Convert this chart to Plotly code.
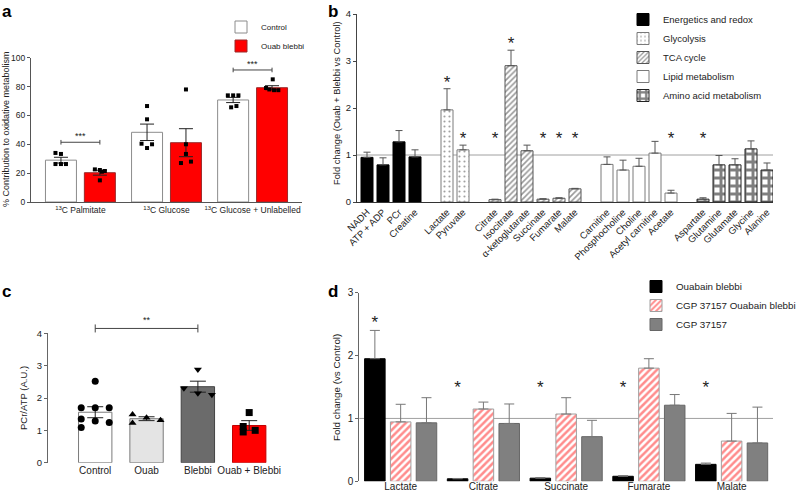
import numpy as np
import plotly.graph_objects as go

W, H = 798, 494
FONT = "Arial, Liberation Sans, sans-serif"

# ---------------- data ----------------
# Panel a
a_groups = ["<sup>13</sup>C Palmitate", "<sup>13</sup>C Glucose", "<sup>13</sup>C Glucose + Unlabelled"]
a_series = ["Control", "Ouab blebbi"]
a_control_mean = [29.0, 48.3, 70.7]
a_control_sem = [2.0, 5.7, 1.8]
a_ouab_mean = [20.3, 41.1, 79.2]
a_ouab_sem = [1.7, 9.7, 1.4]
a_control_points = [[34.0, 33.3, 26.3, 26.3, 26.3], [66.5, 57.3, 40.4, 37.4, 40.0], [73.9, 73.9, 73.9, 65.6, 66.5]]
a_ouab_points = [[22.6, 22.2, 21.5, 21.0, 15.0], [78.0, 40.0, 33.3, 27.0, 28.0], [85.0, 79.0, 78.0, 77.5, 77.5]]
a_sig_groups = [0, 2]
a_sig_labels = ["***", "***"]
a_sig_heights = [41.4, 91.5]
a_yticks = [0, 20, 40, 60, 80, 100]

# Panel b
b_groups = ["Energetics and redox", "Glycolysis", "TCA cycle", "Lipid metabolism", "Amino acid metabolism"]
b_metabolites = [
    ["NADH", "ATP + ADP", "PCr", "Creatine"],
    ["Lactate", "Pyruvate"],
    ["Citrate", "Isocitrate", "α-ketoglutarate", "Succinate", "Fumarate", "Malate"],
    ["Carnitine", "Phosphocholine", "Choline", "Acetyl carnitine", "Acetate"],
    ["Aspartate", "Glutamine", "Glutamate", "Glycine", "Alanine"],
]
b_fold = [
    [0.95, 0.79, 1.28, 0.96],
    [1.96, 1.11],
    [0.05, 2.90, 1.09, 0.06, 0.08, 0.28],
    [0.80, 0.68, 0.76, 1.04, 0.19],
    [0.06, 0.79, 0.79, 1.13, 0.68],
]
b_err = [
    [0.11, 0.15, 0.24, 0.15],
    [0.45, 0.10],
    [0.01, 0.33, 0.12, 0.01, 0.01, 0.01],
    [0.16, 0.21, 0.17, 0.25, 0.06],
    [0.03, 0.20, 0.13, 0.17, 0.15],
]
b_sig = [
    [0, 0, 0, 0],
    [1, 1],
    [1, 1, 0, 1, 1, 1],
    [0, 0, 0, 0, 1],
    [1, 0, 0, 0, 0],
]
b_yticks = [0, 1, 2, 3, 4]

# Panel c
c_groups = ["Control", "Ouab", "Blebbi", "Ouab + Blebbi"]
c_mean = [1.56, 1.36, 2.35, 1.15]
c_sem = [0.17, 0.06, 0.17, 0.15]
c_points = [
    [2.52, 1.70, 1.70, 1.70, 1.35, 1.29, 1.24, 1.09],
    [1.49, 1.23, 1.39, 1.31],
    [2.88, 2.30, 2.15, 2.10],
    [1.55, 1.12, 0.95, 1.00],
]
c_sig_pair = [0, 2]
c_sig_label = "**"
c_sig_height = 4.15
c_yticks = [0, 1, 2, 3, 4]

# Panel d
d_metabolites = ["Lactate", "Citrate", "Succinate", "Fumarate", "Malate"]
d_series = ["Ouabain blebbi", "CGP 37157 Ouabain blebbi", "CGP 37157"]
d_ouab = [1.95, 0.04, 0.05, 0.08, 0.27]
d_ouab_err = [0.45, 0.005, 0.01, 0.01, 0.02]
d_cgp_ouab = [0.945, 1.15, 1.07, 1.80, 0.64]
d_cgp_ouab_err = [0.28, 0.11, 0.26, 0.15, 0.44]
d_cgp = [0.93, 0.92, 0.71, 1.21, 0.61]
d_cgp_err = [0.40, 0.31, 0.26, 0.17, 0.57]
d_sig = [1, 1, 1, 1, 1]
d_yticks = [0, 1, 2, 3]

# ---------------- layout geometry (px) ----------------
def px_x(p):
    return p / W


def px_y(p):
    return 1 - p / H


A = dict(x0=31, x1=302, y0=57.7, y1=202, xr=[-0.574, 2.574], yr=[0, 100])
B = dict(x0=357, x1=773, y0=14, y1=202, xr=[-0.625, 25.375], yr=[0, 4])
C = dict(x0=48, x1=280, y0=333.3, y1=462.7, xr=[-0.92, 3.6], yr=[0, 4])
D = dict(x0=359.3, x1=773, y0=292.7, y1=481.3, xr=[-0.5, 4.5], yr=[0, 3])


def ppu(P):
    return (P["x1"] - P["x0"]) / (P["xr"][1] - P["xr"][0])


# jitter offsets (px) for the individual points
a_ctrl_jit = [[-5.5, 0, -5.5, 0, 5], [0, 0, -5.5, 0, 5], [-5.3, 0, 5.3, -2, 3.3]]
a_ouab_jit = [[-5, 0, 5, 2, 0], [0, 0, 0, -5, 5], [0.7, -6, -2.7, 2, 6.3]]
c_jit = [[0, -14, 0, 14, -14, 0, 14, -14], [-14, -14, 0, 14], [0, -14, 0, 14], [0, -6, -6, 6]]

fig = go.Figure()

# ---------------- panel a ----------------
A_OFF, A_W = 0.226, 0.36
xa = np.arange(len(a_groups))
fig.add_trace(go.Bar(
    x=xa - A_OFF, y=a_control_mean, width=A_W, name=a_series[0],
    marker=dict(color="white", line=dict(color="#8c8c8c", width=1)),
    error_y=dict(type="data", array=a_control_sem, color="#222", thickness=1, width=7),
    xaxis="x", yaxis="y", legend="legend"))
fig.add_trace(go.Bar(
    x=xa + A_OFF, y=a_ouab_mean, width=A_W, name=a_series[1],
    marker=dict(color="#ff0000", line=dict(color="#9a2a2a", width=1)),
    error_y=dict(type="data", array=a_ouab_sem, color="#222", thickness=1, width=7),
    xaxis="x", yaxis="y", legend="legend"))
ua = ppu(A)
for pts, jit, off in [(a_control_points, a_ctrl_jit, -A_OFF), (a_ouab_points, a_ouab_jit, A_OFF)]:
    xs, ys = [], []
    for g, (vals, js) in enumerate(zip(pts, jit)):
        for v, j in zip(vals, js):
            xs.append(g + off + j / ua)
            ys.append(v)
    fig.add_trace(go.Scatter(x=xs, y=ys, mode="markers", showlegend=False,
                             marker=dict(color="black", size=4, symbol="square"),
                             xaxis="x", yaxis="y", cliponaxis=False))

shapes = []
annotations = []
for g, lab, h in zip(a_sig_groups, a_sig_labels, a_sig_heights):
    x0, x1 = g - A_OFF, g + A_OFF
    shapes.append(dict(type="line", xref="x", yref="y", x0=x0, x1=x1, y0=h, y1=h,
                       line=dict(color="#444", width=1)))
    for xe in (x0, x1):
        shapes.append(dict(type="line", xref="x", yref="y", x0=xe, x1=xe, y0=h - 1.6, y1=h + 1.6,
                           line=dict(color="#444", width=1)))
    annotations.append(dict(x=g, y=h, xref="x", yref="y", text=lab, showarrow=False,
                            yshift=6, font=dict(size=9, color="#222")))

# ---------------- panel b ----------------
b_pos = []
s = 0
for grp in b_metabolites:
    b_pos.append(list(range(s, s + len(grp))))
    s += len(grp) + 1

b_styles = [
    dict(color="black", line=dict(color="black", width=1)),
    dict(color="white", line=dict(color="#7a7a7a", width=1),
         pattern=dict(shape=".", fgcolor="#444", bgcolor="white", size=5, solidity=0.15)),
    dict(color="white", line=dict(color="#555", width=1),
         pattern=dict(shape="/", fgcolor="#333", bgcolor="white", size=4, solidity=0.4)),
    dict(color="white", line=dict(color="#7a7a7a", width=1)),
    dict(color="white", line=dict(color="#222", width=1),
         pattern=dict(shape="+", fgcolor="black", bgcolor="white", size=8, solidity=0.6)),
]
star_x, star_y = [], []
for name, pos, vals, errs, sig, st in zip(b_groups, b_pos, b_fold, b_err, b_sig, b_styles):
    fig.add_trace(go.Bar(
        x=pos, y=vals, width=0.75, name=name, marker=st,
        error_y=dict(type="data", array=errs, arrayminus=[0] * len(errs), symmetric=False,
                     color="#555", thickness=1, width=3.5),
        xaxis="x2", yaxis="y2", legend="legend2"))
    for p, v, e, sg in zip(pos, vals, errs, sig):
        if sg:
            star_x.append(p)
            star_y.append(max(v + e + 0.115, 1.335))
fig.add_trace(go.Scatter(x=star_x, y=star_y, mode="text", text=["*"] * len(star_x),
                         textfont=dict(size=17, color="#222", family=FONT), textposition="middle center",
                         showlegend=False, xaxis="x2", yaxis="y2", cliponaxis=False))
shapes.append(dict(type="line", xref="x2 domain", yref="y2", x0=0, x1=1, y0=1, y1=1,
                   line=dict(color="#a0a0a0", width=1), layer="below"))

# ---------------- panel c ----------------
C_W = 0.65
xc = np.arange(len(c_groups))
c_colors = ["white", "#e4e4e4", "#6b6b6b", "#ff0000"]
c_lines = ["#7a7a7a", "#7a7a7a", "#444", "#c00000"]
c_symbols = ["circle", "triangle-up", "triangle-down", "square"]
fig.add_trace(go.Bar(
    x=xc, y=c_mean, width=C_W, showlegend=False,
    marker=dict(color=c_colors, line=dict(color=c_lines, width=1)),
    error_y=dict(type="data", array=c_sem, color="#222", thickness=1, width=8),
    xaxis="x3", yaxis="y3"))
uc = ppu(C)
for g, (vals, js) in enumerate(zip(c_points, c_jit)):
    fig.add_trace(go.Scatter(
        x=[g + j / uc for j in js], y=vals, mode="markers", showlegend=False,
        marker=dict(color="black", size=7, symbol=c_symbols[g]),
        xaxis="x3", yaxis="y3", cliponaxis=False))
cy_dom = [px_y(C["y1"]), px_y(C["y0"])]
cy = cy_dom[0] + (c_sig_height - C["yr"][0]) / (C["yr"][1] - C["yr"][0]) * (cy_dom[1] - cy_dom[0])
shapes.append(dict(type="line", xref="x3", yref="paper", x0=c_sig_pair[0], x1=c_sig_pair[1],
                   y0=cy, y1=cy, line=dict(color="#444", width=1)))
for xe in c_sig_pair:
    shapes.append(dict(type="line", xref="x3", yref="paper", x0=xe, x1=xe,
                       y0=cy - 4 / H, y1=cy + 4 / H, line=dict(color="#444", width=1)))
annotations.append(dict(x=(c_sig_pair[0] + c_sig_pair[1]) / 2, y=cy, xref="x3", yref="paper",
                        text=c_sig_label, showarrow=False, yshift=8, font=dict(size=9, color="#222")))

# ---------------- panel d ----------------
D_OFF, D_W = 0.312, 0.248
xd = np.arange(len(d_metabolites))
d_vals = [d_ouab, d_cgp_ouab, d_cgp]
d_errs = [d_ouab_err, d_cgp_ouab_err, d_cgp_err]
d_styles = [
    dict(color="black", line=dict(color="black", width=1)),
    dict(color="white", line=dict(color="#a0a0a0", width=1),
         pattern=dict(shape="/", fgcolor="#ff1a1a", bgcolor="white", size=5, solidity=0.5)),
    dict(color="#808080", line=dict(color="#666", width=1)),
]
for k, (name, vals, errs, st) in enumerate(zip(d_series, d_vals, d_errs, d_styles)):
    fig.add_trace(go.Bar(
        x=xd + (k - 1) * D_OFF, y=vals, width=D_W, name=name, marker=st,
        error_y=dict(type="data", array=errs, arrayminus=[0] * len(errs), symmetric=False,
                     color="#777", thickness=1, width=5),
        xaxis="x4", yaxis="y4", legend="legend3"))
dsx, dsy = [], []
for i, (v, e, sg) in enumerate(zip(d_ouab, d_ouab_err, d_sig)):
    if sg:
        dsx.append(i - D_OFF)
        dsy.append(max(v + e + 0.10, 1.47))
fig.add_trace(go.Scatter(x=dsx, y=dsy, mode="text", text=["*"] * len(dsx),
                         textfont=dict(size=17, color="#222", family=FONT), textposition="middle center",
                         showlegend=False, xaxis="x4", yaxis="y4", cliponaxis=False))
shapes.append(dict(type="line", xref="x4 domain", yref="y4", x0=0, x1=1, y0=1, y1=1,
                   line=dict(color="#a0a0a0", width=1), layer="below"))

# ---------------- titles / panel letters ----------------
for txt, x, y in [("a", 0, 0), ("b", 326, 0), ("c", 0, 280), ("d", 326, 280)]:
    annotations.append(dict(x=px_x(x), y=px_y(y), xref="paper", yref="paper", xanchor="left",
                            yanchor="top", text="<b>%s</b>" % txt, showarrow=False,
                            font=dict(size=17, color="black", family=FONT)))
for txt, x, y, sz in [("% Contribution to oxidative metabolism", 6, 129, 9),
                      ("Fold change (Ouab + Blebbi vs Control)", 337, 103, 9.3),
                      ("PCr/ATP (A.U.)", 23, 398, 9.5),
                      ("Fold change (vs Control)", 336, 388, 9.8)]:
    annotations.append(dict(x=px_x(x), y=px_y(y), xref="paper", yref="paper", xanchor="center",
                            yanchor="middle", text=txt, textangle=-90, showarrow=False,
                            font=dict(size=sz, color="#222", family=FONT)))


def xax(P, anchor, **kw):
    d = dict(domain=[px_x(P["x0"]), px_x(P["x1"])], range=P["xr"], anchor=anchor, showgrid=False,
             zeroline=False, ticks="", fixedrange=True)
    d.update(kw)
    return d


def yax(P, anchor, tickvals, size, lc):
    return dict(domain=[px_y(P["y1"]), px_y(P["y0"])], range=P["yr"], anchor=anchor, showgrid=False,
                zeroline=False, showline=True, linecolor=lc, linewidth=1, ticks="outside", ticklen=3,
                tickcolor=lc, tickvals=tickvals, tickfont=dict(size=size, color="#222"), fixedrange=True)


fig.update_layout(
    width=W, height=H, margin=dict(l=0, r=0, t=0, b=0, autoexpand=False),
    paper_bgcolor="white", plot_bgcolor="rgba(0,0,0,0)",
    font=dict(family=FONT, color="#222"),
    barmode="overlay", hovermode=False,
    xaxis=xax(A, "y", showline=True, linecolor="#555", linewidth=1, tickvals=list(range(len(a_groups))),
              ticktext=a_groups, tickfont=dict(size=8.5, color="#222")),
    yaxis=yax(A, "x", a_yticks, 8.5, "#555"),
    xaxis2=xax(B, "y2", showline=True, linecolor="#333", linewidth=1,
               tickvals=[p for grp in b_pos for p in grp],
               ticktext=[m for grp in b_metabolites for m in grp], tickangle=-45,
               tickfont=dict(size=9.5, color="#222")),
    yaxis2=yax(B, "x2", b_yticks, 9.5, "#444"),
    xaxis3=xax(C, "y3", showline=False, tickvals=list(range(len(c_groups))), ticktext=c_groups,
               tickfont=dict(size=10, color="#222")),
    yaxis3=yax(C, "x3", c_yticks, 9.5, "#666"),
    xaxis4=xax(D, "y4", showline=False, tickvals=list(range(len(d_metabolites))), ticktext=d_metabolites,
               tickfont=dict(size=10, color="#222"), ticklabelstandoff=-2),
    yaxis4=yax(D, "x4", d_yticks, 10, "#666"),
    legend=dict(x=px_x(221), y=px_y(12.5), xanchor="left", yanchor="top", bgcolor="rgba(0,0,0,0)",
                font=dict(size=8), itemwidth=30, tracegroupgap=0),
    legend2=dict(x=px_x(623), y=px_y(5), xanchor="left", yanchor="top", bgcolor="rgba(0,0,0,0)",
                 font=dict(size=9.5), itemwidth=30, tracegroupgap=0),
    legend3=dict(x=px_x(636), y=px_y(272), xanchor="left", yanchor="top", bgcolor="rgba(0,0,0,0)",
                 font=dict(size=9.8), itemwidth=30, tracegroupgap=0),
    shapes=shapes, annotations=annotations, showlegend=True,
)

fig.write_html("out.html", config={"displayModeBar": False, "staticPlot": False},
               post_script="document.body.style.margin='0';document.body.style.overflow='hidden';")
